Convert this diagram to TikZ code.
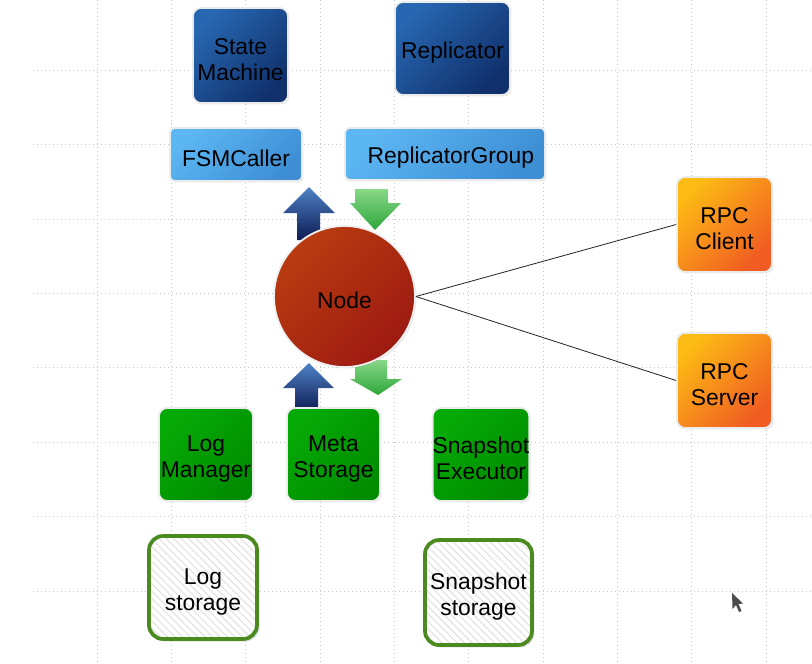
\documentclass[tikz,border=0pt]{standalone}
\usepackage{fontspec}
\setmainfont{Liberation Sans}
\usetikzlibrary{shadows,patterns.meta}

\definecolor{darktop}{HTML}{2766B0}
\definecolor{darkbot}{HTML}{10306C}
\definecolor{lighttop}{HTML}{5CB6F2}
\definecolor{lightbot}{HTML}{3E8ED4}
\definecolor{nodetop}{HTML}{B83C10}
\definecolor{nodebot}{HTML}{9E1A12}
\definecolor{rpctop}{HTML}{FCBA14}
\definecolor{rpcbot}{HTML}{F05C22}
\definecolor{greentop}{HTML}{06AA06}
\definecolor{greenbot}{HTML}{008C00}
\definecolor{storegreen}{HTML}{4B8A1F}
\definecolor{arrblue}{HTML}{4F82C6}
\definecolor{arrnavy}{HTML}{0C1B52}
\definecolor{arrlight}{HTML}{88D888}
\definecolor{arrgreen}{HTML}{2DA63A}

\newcommand{\pxlen}{0.03cm}
% taller first line, sets the text a little lower in its box
\newcommand{\tstrut}{\rule{0pt}{21pt}}

\tikzset{
  sz/.style 2 args={minimum width=#1*\pxlen, minimum height=#2*\pxlen},
  gridline/.style={black!22, line width=0.5pt, dash pattern=on 0.8pt off 2.6pt},
  softshadow/.style={drop shadow={shadow xshift=1.2pt, shadow yshift=-1.2pt, opacity=0.18}},
  darkbox/.style={rectangle, rounded corners=7pt, softshadow, draw=black!8, line width=1.5pt,
    top color=darktop, bottom color=darkbot, shading angle=45},
  lightbox/.style={rectangle, rounded corners=4pt, softshadow, draw=black!8, line width=1.5pt,
    top color=lighttop, bottom color=lightbot, shading angle=45},
  orangebox/.style={rectangle, rounded corners=7pt, softshadow, draw=black!8, line width=1.5pt,
    top color=rpctop, bottom color=rpcbot, shading angle=45},
  greenbox/.style={rectangle, rounded corners=7pt, softshadow, draw=black!8, line width=1.5pt,
    top color=greentop, bottom color=greenbot, shading angle=45},
  redcircle/.style={circle, softshadow, draw=black!6, line width=1.5pt,
    top color=nodetop, bottom color=nodebot, shading angle=45},
  storebox/.style={rectangle, rounded corners=12pt,
    drop shadow={shadow xshift=2pt, shadow yshift=-2pt, opacity=0.3},
    preaction={fill=white},
    preaction={pattern={Lines[angle=-45,distance=4.5pt,line width=0.8pt]}, pattern color=black!13},
    draw=storegreen, line width=3.2pt},
  bluearrow/.style={top color=arrblue, bottom color=arrnavy},
  greenarrow/.style={top color=arrlight, bottom color=arrgreen},
  link/.style={black!85, line width=0.7pt}
}

\begin{document}
\begin{tikzpicture}[x=0.03cm, y=-0.03cm,
  every node/.style={font=\fontsize{19.5}{22}\selectfont, align=center, inner sep=0pt}]
  \useasboundingbox (0,0) rectangle (812,663);
  \fill[white] (0,0) rectangle (812,663);

  % dotted background grid
  \foreach \k in {0,...,9}
    \draw[gridline] ({97+74.33*\k},0) -- ({97+74.33*\k},663);
  \foreach \k in {0,...,7}
    \draw[gridline] (33,{70+74.4*\k}) -- (812,{70+74.4*\k});

  % block arrows above the node
  \shade[bluearrow] (309,187) -- (335,213) -- (320,213) -- (320,240) -- (297,240) -- (297,213) -- (283,213) -- cycle;
  \shade[greenarrow] (355,189) -- (388,189) -- (388,203) -- (401,203) -- (375,230) -- (350,203) -- (355,203) -- cycle;
  % block arrows below the node
  \shade[bluearrow] (309,363) -- (334,388) -- (318,388) -- (318,412) -- (295,412) -- (295,388) -- (283,388) -- cycle;
  \shade[greenarrow] (355,360) -- (387,360) -- (387,379) -- (402,379) -- (378,395) -- (350,379) -- (355,379) -- cycle;

  % top row
  \node[darkbox, sz={95}{95}] (sm) at (240.5,55.5) {\tstrut State\\Machine};
  \node[darkbox, sz={115}{93}] (rep) at (452.5,48.5) {\tstrut Replicator};
  \node[lightbox, sz={132}{53}] (fsm) at (236,154.5) {\tstrut FSMCaller};
  \node[lightbox, sz={200}{52}] (rg) at (445,154) {\tstrut\hspace{10pt}ReplicatorGroup};

  % the node
  \node[redcircle, minimum size=141*\pxlen] (nd) at (344.5,296.5) {\tstrut Node};

  % rpc
  \node[orangebox, sz={95}{95}] (rpcc) at (724.5,224.5) {\tstrut RPC\\Client};
  \node[orangebox, sz={95}{95}] (rpcs) at (724.5,380.5) {\tstrut RPC\\Server};

  % lower row
  \node[greenbox, sz={94}{93}] (lm) at (206,454.5) {\tstrut Log\\Manager};
  \node[greenbox, sz={93}{93}] (ms) at (333.5,454.5) {\tstrut Meta\\Storage};
  \node[greenbox, sz={94}{93}] (se) at (481,454.5) {\tstrut Snapshot\\Executor};

  % storage
  \node[storebox, sz={108}{103}] (ls) at (203,587.5) {\tstrut Log\\storage};
  \node[storebox, sz={107}{105}] (ss) at (478.5,592.5) {\tstrut Snapshot\\storage};

  % links to rpc
  \draw[link] (nd.east) -- (rpcc.west);
  \draw[link] (nd.east) -- (rpcs.west);

  % mouse pointer
  \fill[black!70] (732,593) -- (732.5,609) -- (736,605) -- (739,612) -- (741.5,611) -- (738.5,604) -- (743,603.5) -- cycle;
\end{tikzpicture}
\end{document}
